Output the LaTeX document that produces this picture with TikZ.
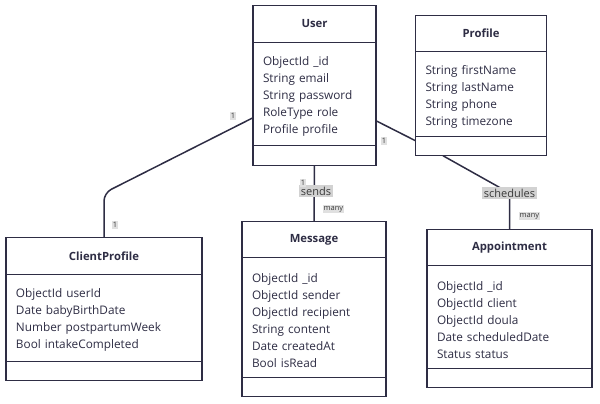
\documentclass[tikz,border=0pt]{standalone}
\usepackage{fontspec}
\setmainfont{Open Sans}
\usetikzlibrary{positioning}
\definecolor{classline}{HTML}{2E2D44}
\definecolor{labelbg}{HTML}{D2D2D2}
\definecolor{tagbg}{HTML}{E0E0E0}
\definecolor{labeltext}{HTML}{3A3A3A}

\begin{document}
\begin{tikzpicture}[x=1pt, y=-1pt, line width=1.3pt,
      every node/.append style={outer sep=0pt, text=classline},
      head/.style={draw=classline, fill=white, minimum height=36.5, inner sep=0pt,
        font=\bfseries\fontsize{11.3}{13}\selectfont},
      attr/.style={draw=classline, fill=white, text width=#1, inner xsep=10pt, inner ysep=0pt,
        align=left, font=\fontsize{11.8}{17}\selectfont, execute at begin node=\rule{0pt}{14pt}},
      meth/.style={draw=classline, fill=white, minimum height=19, inner sep=0pt},
      rel/.style={draw=classline, line width=1.5pt}]
    \tikzstyle{tag} = [fill=tagbg, text=labeltext, inner sep=1pt, font=\fontsize{7.5}{8}\selectfont]
    \tikzstyle{verb} = [fill=labelbg, text=labeltext, inner sep=1.5pt, font=\fontsize{11}{12}\selectfont]
    \useasboundingbox (0,0) rectangle (600,404);
    % classes
    \node[head, minimum width=123] (User) at (314.5,24) {User};
    \node[attr=103, minimum height=103, below=0pt of User] (User_attr)
      {ObjectId \_id\\String email\\String password\\RoleType role\\Profile profile};
    \node[meth, minimum width=123, minimum height=20, below=0pt of User_attr] (User_meth) {};

    \node[head, minimum width=131] (Profile) at (481,33.5) {Profile};
    \node[attr=111, minimum height=85, below=0pt of Profile] (Profile_attr)
      {String firstName\\String lastName\\String phone\\String timezone};
    \node[meth, minimum width=131, below=0pt of Profile_attr] (Profile_meth) {};

    \node[head, minimum width=196] (Client) at (104,256) {ClientProfile};
    \node[attr=176, minimum height=87, below=0pt of Client] (Client_attr)
      {ObjectId userId\\Date babyBirthDate\\Number postpartumWeek\\Bool intakeCompleted};
    \node[meth, minimum width=196, below=0pt of Client_attr] (Client_meth) {};

    \node[head, minimum width=144] (Message) at (314,239.5) {Message};
    \node[attr=124, minimum height=120, below=0pt of Message] (Message_attr)
      {ObjectId \_id\\ObjectId sender\\ObjectId recipient\\String content\\Date createdAt\\Bool isRead};
    \node[meth, minimum width=144, below=0pt of Message_attr] (Message_meth) {};

    \node[head, minimum width=165] (Appt) at (509.5,247.5) {Appointment};
    \node[attr=145, minimum height=103, below=0pt of Appt] (Appt_attr)
      {ObjectId \_id\\ObjectId client\\ObjectId doula\\Date scheduledDate\\Status status};
    \node[meth, minimum width=165, below=0pt of Appt_attr] (Appt_meth) {};

    % relations
    \draw[rel, rounded corners=8pt] ([yshift=-24pt]User_attr.west) -- (Client.north |- 0,193) -- (Client.north);
    \draw[rel] ([yshift=-27pt]User_attr.east) -- ([yshift=5.5pt]Profile_meth.west);
    \draw[rel] (User_meth.south) -- (Message.north);
    \draw[rel] ([xshift=-38pt]Profile_meth.south) -- (Appt.north |- 0,193) -- (Appt.north);

    % labels
    \node[tag] (one_uc) at (233,116) {1};
    \node[tag] (one_cu) at (115,225) {1};
    \node[tag] (one_up) at (384,141) {1};
    \node[verb] (sends) at (316,191) {sends};
    \node[tag] (one_um) at (303,183) {1};
    \node[tag] (many_m) at (333.5,209) {many};
    \node[verb] (schedules) at (509.5,193) {schedules};
    \node[tag] (many_a) at (529.5,216) {many};
\end{tikzpicture}
\end{document}
